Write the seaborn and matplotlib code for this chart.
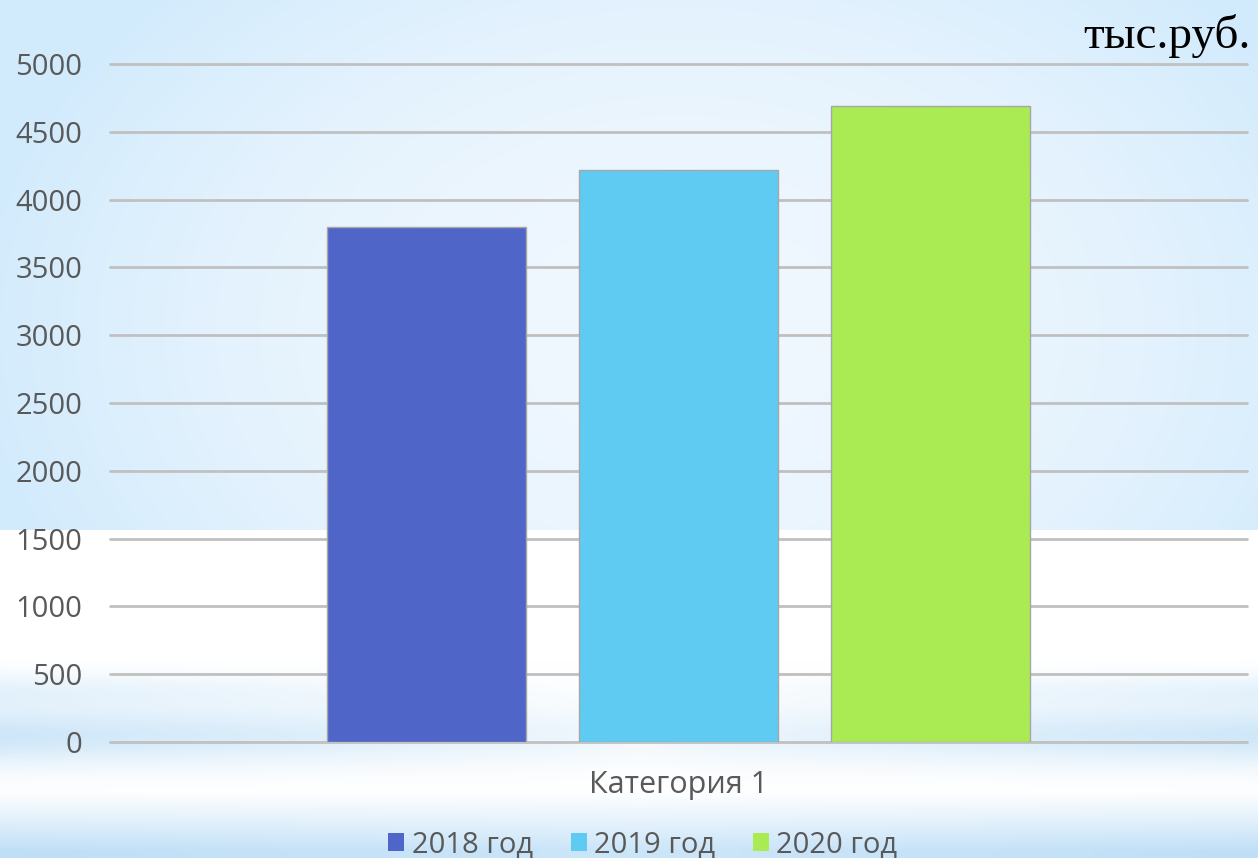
import numpy as np
import pandas as pd
import matplotlib
matplotlib.use("Agg")
import matplotlib.pyplot as plt
import seaborn as sns
from matplotlib.patches import Rectangle

# Revenue by year, thousand roubles
categories = ["Категория 1"]
series = ["2018 год", "2019 год", "2020 год"]
values = [3800, 4220, 4690]
yticks = [0, 500, 1000, 1500, 2000, 2500, 3000, 3500, 4000, 4500, 5000]
unit_label = "тыс.руб."
colors = ["#4f66c8", "#5fcbf2", "#aaea52"]

df = pd.DataFrame({
    "category": categories * len(series),
    "series": series,
    "value": values,
})

sns.set_theme(style="white")
plt.rcParams["font.family"] = ["Open Sans", "DejaVu Sans"]

W, H = 1258, 858
fig = plt.figure(figsize=(W / 100, H / 100), dpi=100)

# Slide-style backdrop: soft blue glow on top, white band, blue streaks at the bottom
yy, xx = np.mgrid[0:H, 0:W].astype(float)
light = np.array([0.94, 0.97, 0.997])
blue = np.array([0.82, 0.92, 0.99])
white = np.array([1.0, 1.0, 1.0])
r = np.sqrt(((xx - 680) / 720) ** 2 + ((yy - 330) / 500) ** 2)
t = np.clip(r, 0, 1)[..., None] ** 2.0
top = light * (1 - t) + blue * t
bg = np.empty((H, W, 3))
bg[:] = white
bg[:530] = top[:530]
# bottom band
edge = np.abs(xx - 640) / 640
streak = 0.75 * np.exp(-((yy - 735) / 30) ** 2) * (0.25 + 0.75 * edge ** 0.8) \
    + 0.35 * np.exp(-((yy - 690) / 18) ** 2) * edge \
    + np.clip((yy - 790) / 60, 0, 1) ** 1.1 * (0.8 + 0.2 * edge)
s = np.clip(streak * (yy > 660), 0, 1)[..., None]
band_blue = np.array([0.75, 0.875, 0.97])
bottom = white * (1 - s) + band_blue * s
bg[660:] = bottom[660:]
bg_ax = fig.add_axes([0, 0, 1, 1], zorder=-10)
bg_ax.imshow(bg, aspect="auto", interpolation="bilinear")
bg_ax.set_axis_off()

ax = fig.add_axes([110 / W, 1 - 742 / H, (1247 - 110) / W, (742 - 64) / H])
ax.patch.set_alpha(0)

sns.barplot(
    data=df, x="category", y="value", hue="series",
    palette=colors, saturation=1, width=0.665, gap=0.214, ax=ax,
    edgecolor="#a6a6a6", linewidth=1.0, legend=False, zorder=3,
)

ax.set_xlim(-0.5, 0.5)
ax.set_ylim(0, 5000)
ax.set_yticks(yticks)
ax.yaxis.grid(True, color="#c0c0c0", linewidth=2.0, zorder=0)
for gl in ax.get_ygridlines():
    gl.set_clip_on(False)
ax.xaxis.grid(False)
ax.set_axisbelow(True)
for sp in ax.spines.values():
    sp.set_visible(False)
ax.tick_params(axis="both", length=0, colors="#595959")
ax.tick_params(axis="y", labelsize=21, pad=20)
ax.tick_params(axis="x", labelsize=22, pad=20)
ax.set_xlabel("")
ax.set_ylabel("")

fig.text(1251 / W, 1 - 36 / H, unit_label, ha="right", va="center",
         fontsize=34, family=["Liberation Serif", "DejaVu Serif"], color="#000000")

handles = [Rectangle((0, 0), 1, 1, facecolor=c, edgecolor="none") for c in colors]
fig.legend(handles, series, loc="center", bbox_to_anchor=(643 / W, 1 - 845 / H),
           ncol=3, frameon=False, fontsize=21, labelcolor="#595959",
           handlelength=0.55, handleheight=0.55, handletextpad=0.25,
           columnspacing=1.3)

fig.savefig("out.png", dpi=100)
